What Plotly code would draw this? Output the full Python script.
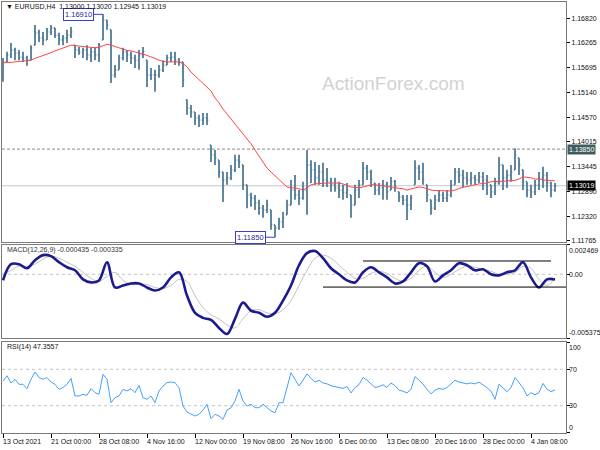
import plotly.graph_objects as go

# ---------------- data ----------------
tick_dates = ["13 Oct 2021", "21 Oct 00:00", "28 Oct 08:00", "4 Nov 16:00", "12 Nov 00:00",
              "19 Nov 08:00", "26 Nov 16:00", "6 Dec 00:00", "13 Dec 08:00", "20 Dec 16:00",
              "28 Dec 00:00", "4 Jan 08:00"]
tick_bars = [0, 12, 24, 36, 48, 60, 72, 84, 96, 108, 120, 132]

price_ticks = [1.16820, 1.16265, 1.15695, 1.15140, 1.14570, 1.14015, 1.13445, 1.12890, 1.12320, 1.11765]
macd_ticks = [0.002469, 0.0, -0.005375]
rsi_ticks = [100, 70, 30, 0]

high = [1.1592, 1.1606, 1.1626, 1.1615, 1.1610, 1.1606, 1.1597, 1.1621, 1.1667, 1.1656,
        1.1651, 1.1660, 1.1667, 1.1660, 1.1649, 1.1644, 1.1656, 1.1662, 1.1621, 1.1617,
        1.1615, 1.1621, 1.1615, 1.1617, 1.1626, 1.1691, 1.1678, 1.1656, 1.1576, 1.1599,
        1.1615, 1.1610, 1.1606, 1.1599, 1.1610, 1.1617, 1.1587, 1.1569, 1.1565, 1.1576,
        1.1587, 1.1599, 1.1606, 1.1606, 1.1592, 1.1583, 1.1497, 1.1485, 1.1469, 1.1463,
        1.1467, 1.1467, 1.1394, 1.1383, 1.1360, 1.1333, 1.1333, 1.1349, 1.1372, 1.1372,
        1.1349, 1.1304, 1.1286, 1.1281, 1.1270, 1.1258, 1.1270, 1.1247, 1.1213, 1.1229,
        1.1242, 1.1270, 1.1315, 1.1326, 1.1292, 1.1311, 1.1383, 1.1360, 1.1356, 1.1349,
        1.1354, 1.1342, 1.1320, 1.1320, 1.1311, 1.1304, 1.1308, 1.1281, 1.1304, 1.1315,
        1.1356, 1.1349, 1.1338, 1.1308, 1.1308, 1.1315, 1.1311, 1.1322, 1.1315, 1.1288,
        1.1281, 1.1281, 1.1281, 1.1360, 1.1349, 1.1354, 1.1304, 1.1270, 1.1281, 1.1292,
        1.1288, 1.1292, 1.1315, 1.1342, 1.1342, 1.1338, 1.1333, 1.1333, 1.1326, 1.1333,
        1.1333, 1.1326, 1.1304, 1.1320, 1.1367, 1.1349, 1.1338, 1.1349, 1.1387, 1.1365,
        1.1338, 1.1311, 1.1304, 1.1315, 1.1333, 1.1345, 1.1333, 1.1311, 1.1308]

low = [1.1538, 1.1583, 1.1592, 1.1587, 1.1587, 1.1583, 1.1574, 1.1587, 1.1621, 1.1628,
       1.1621, 1.1633, 1.1644, 1.1637, 1.1621, 1.1621, 1.1626, 1.1637, 1.1592, 1.1599,
       1.1592, 1.1587, 1.1583, 1.1587, 1.1583, 1.1633, 1.1656, 1.1535, 1.1547, 1.1565,
       1.1587, 1.1583, 1.1578, 1.1569, 1.1565, 1.1592, 1.1526, 1.1542, 1.1515, 1.1547,
       1.1560, 1.1576, 1.1583, 1.1576, 1.1574, 1.1526, 1.1463, 1.1456, 1.1440, 1.1435,
       1.1440, 1.1440, 1.1356, 1.1349, 1.1320, 1.1265, 1.1304, 1.1315, 1.1333, 1.1342,
       1.1292, 1.1251, 1.1254, 1.1247, 1.1236, 1.1229, 1.1240, 1.1202, 1.1185, 1.1202,
       1.1206, 1.1236, 1.1258, 1.1270, 1.1258, 1.1270, 1.1236, 1.1308, 1.1304, 1.1304,
       1.1299, 1.1299, 1.1288, 1.1288, 1.1274, 1.1270, 1.1274, 1.1229, 1.1258, 1.1274,
       1.1304, 1.1315, 1.1299, 1.1281, 1.1281, 1.1270, 1.1270, 1.1292, 1.1288, 1.1265,
       1.1258, 1.1224, 1.1247, 1.1304, 1.1315, 1.1304, 1.1265, 1.1236, 1.1247, 1.1265,
       1.1265, 1.1265, 1.1276, 1.1304, 1.1308, 1.1299, 1.1304, 1.1304, 1.1304, 1.1308,
       1.1292, 1.1281, 1.1274, 1.1281, 1.1304, 1.1292, 1.1297, 1.1311, 1.1338, 1.1326,
       1.1292, 1.1276, 1.1274, 1.1281, 1.1292, 1.1297, 1.1288, 1.1276, 1.1288]

close = [1.1583, 1.1599, 1.1610, 1.1603, 1.1594, 1.1592, 1.1587, 1.1615, 1.1649, 1.1637,
         1.1633, 1.1651, 1.1660, 1.1644, 1.1633, 1.1637, 1.1644, 1.1651, 1.1610, 1.1606,
         1.1610, 1.1599, 1.1606, 1.1599, 1.1621, 1.1678, 1.1667, 1.1553, 1.1565, 1.1592,
         1.1606, 1.1599, 1.1592, 1.1587, 1.1599, 1.1606, 1.1553, 1.1553, 1.1553, 1.1565,
         1.1576, 1.1592, 1.1594, 1.1587, 1.1583, 1.1542, 1.1478, 1.1469, 1.1456, 1.1451,
         1.1456, 1.1451, 1.1372, 1.1365, 1.1333, 1.1315, 1.1320, 1.1338, 1.1360, 1.1356,
         1.1304, 1.1281, 1.1274, 1.1263, 1.1251, 1.1247, 1.1258, 1.1213, 1.1206, 1.1220,
         1.1229, 1.1258, 1.1292, 1.1281, 1.1274, 1.1292, 1.1349, 1.1338, 1.1320, 1.1333,
         1.1315, 1.1311, 1.1304, 1.1297, 1.1292, 1.1286, 1.1292, 1.1258, 1.1292, 1.1304,
         1.1342, 1.1333, 1.1315, 1.1292, 1.1297, 1.1304, 1.1288, 1.1311, 1.1299, 1.1276,
         1.1270, 1.1258, 1.1274, 1.1342, 1.1333, 1.1315, 1.1281, 1.1251, 1.1270, 1.1281,
         1.1274, 1.1281, 1.1304, 1.1333, 1.1326, 1.1320, 1.1315, 1.1320, 1.1315, 1.1322,
         1.1315, 1.1311, 1.1288, 1.1308, 1.1349, 1.1320, 1.1326, 1.1333, 1.1372, 1.1349,
         1.1311, 1.1292, 1.1288, 1.1304, 1.1320, 1.1326, 1.1308, 1.1292, 1.13019]
first_open = 1.1545

ma = [1.1581, 1.1581, 1.1582, 1.1583, 1.1584, 1.1585, 1.1586, 1.1587, 1.1591, 1.1594,
      1.1598, 1.1601, 1.1604, 1.1608, 1.1611, 1.1615, 1.1618, 1.1621, 1.1620, 1.1619,
      1.1618, 1.1617, 1.1616, 1.1615, 1.1616, 1.1619, 1.1623, 1.1621, 1.1618, 1.1615,
      1.1611, 1.1609, 1.1608, 1.1605, 1.1603, 1.1601, 1.1598, 1.1594, 1.1591, 1.1587,
      1.1584, 1.1583, 1.1583, 1.1583, 1.1583, 1.1579, 1.1572, 1.1560, 1.1551, 1.1544,
      1.1535, 1.1526, 1.1517, 1.1501, 1.1490, 1.1476, 1.1465, 1.1453, 1.1442, 1.1431,
      1.1419, 1.1408, 1.1397, 1.1383, 1.1370, 1.1356, 1.1342, 1.1333, 1.1324, 1.1315,
      1.1308, 1.1299, 1.1297, 1.1297, 1.1295, 1.1292, 1.1297, 1.1304, 1.1306, 1.1307,
      1.1308, 1.1308, 1.1308, 1.1308, 1.1308, 1.1306, 1.1303, 1.1299, 1.1298, 1.1297,
      1.1299, 1.1301, 1.1304, 1.1304, 1.1303, 1.1301, 1.1300, 1.1299, 1.1297, 1.1296,
      1.1295, 1.1292, 1.1295, 1.1297, 1.1299, 1.1298, 1.1295, 1.1292, 1.1291, 1.1291,
      1.1290, 1.1290, 1.1290, 1.1292, 1.1296, 1.1298, 1.1300, 1.1303, 1.1304, 1.1306,
      1.1307, 1.1308, 1.1311, 1.1311, 1.1312, 1.1312, 1.1313, 1.1313, 1.1314, 1.1317,
      1.1322, 1.1321, 1.1320, 1.1317, 1.1317, 1.1315, 1.1314, 1.1313, 1.1313]

# MACD main and signal, sampled every second bar
macd_main = [-0.000517, 0.000848, 0.000848, 0.000507, 0.001189, 0.001616, 0.001531, 0.001019, 0.000592, 0.000336,
             -0.000431, -0.000687, -0.000517, 0.001019, -0.001114, -0.000943, -0.000772, -0.000772, -0.001114, -0.001370,
             -0.001114, -0.000261, 0.000166, -0.001796, -0.003246, -0.003673, -0.003843, -0.004526, -0.005037, -0.003758,
             -0.002393, -0.003076, -0.003246, -0.003587, -0.003246, -0.002223, -0.000943, 0.000763, 0.001787, 0.001957,
             0.001360, 0.000507, -0.000005, -0.000517, -0.000687, 0.000166, 0.000592, 0.000166, -0.000261, -0.000772,
             -0.000602, 0.000166, 0.000934, 0.000678, -0.000602, -0.000090, 0.000336, 0.000934, 0.000763, 0.000336,
             0.000422, -0.000005, -0.000090, 0.000166, 0.000336, 0.001019, -0.000261, -0.001114, -0.000431, -0.000435]
macd_signal = [-0.000090, 0.000336, 0.000678, 0.000678, 0.000848, 0.001275, 0.001531, 0.001360, 0.001019, 0.000678,
               0.000166, -0.000346, -0.000602, -0.000175, 0.000166, -0.000517, -0.000858, -0.000858, -0.000858, -0.001114,
               -0.001199, -0.000943, -0.000431, -0.000602, -0.001796, -0.002820, -0.003417, -0.003758, -0.004270, -0.004526,
               -0.003758, -0.003076, -0.002990, -0.003246, -0.003331, -0.002990, -0.002223, -0.000943, 0.000336, 0.001360,
               0.001616, 0.001360, 0.000763, 0.000166, -0.000346, -0.000346, 0.000081, 0.000251, 0.000081, -0.000346,
               -0.000602, -0.000346, 0.000336, 0.000678, 0.000166, -0.000261, -0.000005, 0.000422, 0.000678, 0.000592,
               0.000422, 0.000251, -0.000005, -0.000005, 0.000166, 0.000678, 0.000507, -0.000431, -0.000943, -0.000335]

rsi = [57, 63, 55, 59, 53.5, 53.5, 48.7, 59, 67, 61,
       59, 61, 56, 53.5, 48, 50, 53.5, 60, 40.7, 40.7,
       42.5, 41.4, 48.7, 44.3, 42.5, 64.5, 59, 33.3, 38.8, 40.7,
       48, 46.2, 48.7, 44.3, 52.4, 38.8, 37, 40.7, 33.3, 46.2,
       51.6, 55.3, 56, 55.3, 49.8, 29.7, 23.1, 20.5, 18.7, 20.5,
       25.3, 31.5, 15.8, 20.5, 18.7, 15, 25.3, 27.8, 35.2, 48,
       35.2, 29.7, 31.5, 27.8, 27.8, 31.5, 27.8, 24.2, 22.3, 33.3,
       33.3, 49.8, 66.3, 59, 51.6, 58, 65, 60, 56, 58,
       55, 54, 52, 51, 50, 49, 51, 44, 50, 53,
       61, 58, 54, 50, 51, 53, 50, 55, 52, 47,
       46, 44, 48, 62, 58, 54, 48, 43, 47, 49,
       48, 50, 54, 58, 56, 55, 54, 55, 54, 56,
       53, 49.8, 46, 37, 53.5, 49.8, 45.5, 49.8, 61, 55.3,
       49.8, 40.7, 44.3, 42, 44.3, 54.5, 48, 45.5, 47.3557]

level_line = 1.13850
last_price = 1.13019
high_mark = (25, 1.16910)
low_mark = (68, 1.11850)
channel_top = (90, 137, 0.00112)
channel_bottom = (80, 140.75, -0.00108)

header_price = "\u25bc EURUSD,H4  1.13000 1.13020 1.12945 1.13019"
header_macd = "MACD(12,26,9) -0.000435 -0.000335"
header_rsi = "RSI(14) 47.3557"

# ---------------- figure ----------------
FONT = "Liberation Sans, Arial, sans-serif"
BAR = "#527c95"
FRAME = "#7a7a7a"

n = len(close)
bars = list(range(n))
opens = []
prev = first_open
for i in range(n):
    opens.append(min(max(prev, low[i]), high[i]))
    prev = close[i]
macd_x = [2 * k for k in range(len(macd_main))]

fig = go.Figure()
fig.add_trace(go.Ohlc(x=bars, open=opens, high=high, low=low, close=close,
                      increasing=dict(line=dict(color=BAR, width=1.8)),
                      decreasing=dict(line=dict(color=BAR, width=1.8)),
                      tickwidth=0.3, hoverinfo="skip", showlegend=False,
                      xaxis="x", yaxis="y"))
fig.add_trace(go.Scatter(x=bars, y=ma, mode="lines", line=dict(color="#ff4545", width=1),
                         hoverinfo="skip", showlegend=False, xaxis="x", yaxis="y"))
fig.add_trace(go.Scatter(x=macd_x, y=macd_signal, mode="lines",
                         line=dict(color="#c4c4c4", width=1, shape="spline"),
                         hoverinfo="skip", showlegend=False, xaxis="x2", yaxis="y2"))
fig.add_trace(go.Scatter(x=macd_x, y=macd_main, mode="lines",
                         line=dict(color="#1b1b8f", width=2.6, shape="spline"),
                         hoverinfo="skip", showlegend=False, xaxis="x2", yaxis="y2"))
fig.add_trace(go.Scatter(x=bars, y=rsi, mode="lines", line=dict(color="#45a0ff", width=1),
                         hoverinfo="skip", showlegend=False, xaxis="x3", yaxis="y3"))

xr = [-0.25, 140.75]
xcommon = dict(range=xr, showline=True, mirror=True, linecolor=FRAME, linewidth=1,
               showgrid=False, zeroline=False, showticklabels=False, fixedrange=True)
ycommon = dict(side="right", showline=True, mirror=True, linecolor=FRAME, linewidth=1,
               showgrid=False, zeroline=False, ticks="outside", ticklen=3, tickcolor="#000",
               tickfont=dict(family=FONT, size=7, color="#111"), fixedrange=True)

fig.update_layout(
    width=600, height=450,
    margin=dict(l=2, r=34, t=2, b=17),
    paper_bgcolor="white", plot_bgcolor="white",
    showlegend=False,
    xaxis=dict(**xcommon, anchor="y", domain=[0, 1], rangeslider=dict(visible=False)),
    xaxis2=dict(**xcommon, anchor="y2", domain=[0, 1], matches="x"),
    xaxis3=dict(**xcommon, anchor="y3", domain=[0, 1], matches="x",
                ticks="outside", ticklen=4, tickcolor="#000", tickvals=tick_bars),
    yaxis=dict(**ycommon, anchor="x", domain=[0.4432, 1], range=[1.11742, 1.17190],
               tickvals=price_ticks, ticktext=["%.5f" % v for v in price_ticks]),
    yaxis2=dict(**ycommon, anchor="x2", domain=[0.2204, 0.4362], range=[-0.005375, 0.002469],
                tickvals=macd_ticks, showticklabels=False),
    yaxis3=dict(**ycommon, anchor="x3", domain=[0, 0.2111], range=[0, 100],
                tickvals=rsi_ticks, showticklabels=False),
)

shapes = [
    dict(type="line", xref="paper", x0=0, x1=1, yref="y", y0=level_line, y1=level_line,
         line=dict(color="#8c8c8c", width=1, dash="3px,2px"), layer="below"),
    dict(type="line", xref="paper", x0=0, x1=1, yref="y", y0=last_price, y1=last_price,
         line=dict(color="#c8c8c8", width=1), layer="below"),
    dict(type="line", xref="paper", x0=0, x1=1, yref="y2", y0=0, y1=0,
         line=dict(color="#c4c4c4", width=1, dash="3px,3px"), layer="below"),
    dict(type="line", xref="paper", x0=0, x1=1, yref="y3", y0=70, y1=70,
         line=dict(color="#c4c4c4", width=1, dash="3px,3px"), layer="below"),
    dict(type="line", xref="paper", x0=0, x1=1, yref="y3", y0=30, y1=30,
         line=dict(color="#c4c4c4", width=1, dash="3px,3px"), layer="below"),
    dict(type="line", xref="x2", x0=channel_top[0], x1=channel_top[1], yref="y2",
         y0=channel_top[2], y1=channel_top[2], line=dict(color="#000", width=1)),
    dict(type="line", xref="x2", x0=channel_bottom[0], x1=channel_bottom[1], yref="y2",
         y0=channel_bottom[2], y1=channel_bottom[2], line=dict(color="#000", width=1)),
]
fig.update_layout(shapes=shapes)

ann = []
small = dict(family=FONT, size=7, color="#111")
for b, t in zip(tick_bars, tick_dates):
    ann.append(dict(x=b, xref="x3", y=0, yref="paper", yanchor="top", xanchor="left",
                    yshift=-3, xshift=-2, text=t, showarrow=False, font=small))
# indicator axis labels
for v, anc in zip(macd_ticks, ["top", "middle", "bottom"]):
    ann.append(dict(x=1, xref="paper", xanchor="left", xshift=1, y=v, yref="y2", yanchor=anc,
                    text=("%.6f" % v) if v != 0 else "0.00", showarrow=False, font=small))
for v, anc in zip(rsi_ticks, ["top", "middle", "middle", "bottom"]):
    ann.append(dict(x=1, xref="paper", xanchor="left", xshift=1, y=v, yref="y3", yanchor=anc,
                    text=str(v), showarrow=False, font=small))
# highlighted price labels
ann.append(dict(x=1, xref="paper", xanchor="left", xshift=1, y=level_line, yref="y",
                text="%.5f" % level_line, showarrow=False, bgcolor="#3e5e5e",
                font=dict(family=FONT, size=7, color="white"), borderpad=1))
ann.append(dict(x=1, xref="paper", xanchor="left", xshift=1, y=last_price, yref="y",
                text="%.5f" % last_price, showarrow=False, bgcolor="#000000",
                font=dict(family=FONT, size=7, color="white"), borderpad=1))
# high / low marks
for bx, py in (high_mark, low_mark):
    ann.append(dict(x=bx, xref="x", y=py, yref="y", text="%.5f" % py, showarrow=True,
                    arrowhead=0, arrowwidth=1, arrowcolor="#3c3cc8", ax=-25, ay=0,
                    bordercolor="#3c3cc8", borderwidth=1, borderpad=1, bgcolor="white",
                    font=dict(family=FONT, size=7.5, color="#2a2a8a")))
# headers
ann.append(dict(x=0.004, xref="paper", y=0.986, yref="paper", xanchor="left", yanchor="middle",
                yshift=2, text=header_price, showarrow=False, font=small))
ann.append(dict(x=0.006, xref="paper", y=0.4246, yref="paper", xanchor="left", yanchor="middle",
                text=header_macd, showarrow=False, font=dict(family=FONT, size=7, color="#333")))
ann.append(dict(x=0.005, xref="paper", y=0.1995, yref="paper", xanchor="left", yanchor="middle",
                text=header_rsi, showarrow=False, font=dict(family=FONT, size=7, color="#111")))
# watermark
ann.append(dict(x=0.695, xref="paper", y=0.81, yref="paper", xanchor="center", yanchor="middle",
                text="ActionForex.com", showarrow=False,
                font=dict(family=FONT, size=19, color="#d2d2d2")))
fig.update_layout(annotations=ann)

fig.write_html("out.html", config={"displayModeBar": False},
               post_script="document.body.style.margin='0';document.body.style.padding='0';")
